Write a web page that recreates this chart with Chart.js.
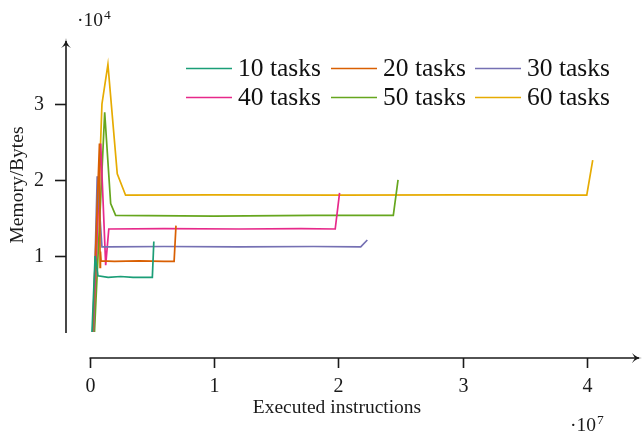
<!DOCTYPE html>
<html>
<head>
<meta charset="utf-8">
<script src="https://cdn.jsdelivr.net/npm/chart.js@4.4.0/dist/chart.umd.min.js"></script>
<style>
  body { margin: 0; background: #fff; }
  canvas { display: block; }
</style>
</head>
<body>
<canvas id="chart" width="644" height="437"></canvas>
<script>
// series labels and colours (Dark2 palette)
let labels = ['10 tasks', '20 tasks', '30 tasks', '40 tasks', '50 tasks', '60 tasks']
let colors = ['#1b9e77', '#d95f02', '#7570b3', '#e7298a', '#66a61e', '#e6ab02']

// points as [instructions (x 1e7), memory (x 1e4)]
let tasks10 = [[0.02, 0], [0.045, 1.0], [0.068, 0.74], [0.15, 0.72], [0.25, 0.73], [0.35, 0.72], [0.45, 0.72], [0.505, 0.72], [0.517, 1.19]]
let tasks20 = [[0.025, 0], [0.08, 2.48], [0.085, 0.85], [0.088, 1.06], [0.093, 0.935], [0.2, 0.93], [0.4, 0.935], [0.6, 0.93], [0.68, 0.93], [0.695, 1.4]]
let tasks30 = [[0.03, 0], [0.062, 2.05], [0.1, 1.12], [0.143, 1.12], [0.6, 1.125], [1.2, 1.12], [1.8, 1.125], [2.18, 1.12], [2.233, 1.21]]
let tasks40 = [[0.03, 0], [0.09, 2.48], [0.13, 0.88], [0.155, 1.355], [0.6, 1.36], [1.2, 1.355], [1.7, 1.36], [1.975, 1.355], [2.01, 1.83]]
let tasks50 = [[0.04, 0], [0.122, 2.89], [0.17, 1.69], [0.21, 1.535], [1.0, 1.525], [1.8, 1.535], [2.442, 1.535], [2.48, 2.0]]
let tasks60 = [[0.035, 0], [0.1, 3.0], [0.148, 3.52], [0.223, 2.08], [0.29, 1.8], [1.0, 1.805], [2.0, 1.8], [3.0, 1.805], [3.997, 1.8], [4.045, 2.26]]
let allSeries = [tasks10, tasks20, tasks30, tasks40, tasks50, tasks60]

// tick labels
let xTicks = [0, 1, 2, 3, 4]
let yTicks = [1, 2, 3]

let font = '"Liberation Serif", "DejaVu Serif", serif'
let ink = '#1a1a1a'

// draws the axes, ticks, titles and legend with the chart's own scales
let axesPlugin = {
    id: 'axesPlugin',
    afterDraw: function(chart) {
        let ctx = chart.ctx
        let xs = chart.scales.x
        let ys = chart.scales.y
        let area = chart.chartArea
        let x0 = xs.getPixelForValue(0)
        let y0 = ys.getPixelForValue(0)
        let xAxisY = area.bottom
        let yAxisX = area.left

        ctx.save()
        ctx.strokeStyle = ink
        ctx.fillStyle = ink
        ctx.lineWidth = 1.6

        // y axis with arrow
        ctx.beginPath()
        ctx.moveTo(yAxisX, y0 + 1)
        ctx.lineTo(yAxisX, area.top + 3)
        ctx.stroke()
        arrow(ctx, yAxisX, area.top, 0, -1)

        // x axis with arrow
        ctx.beginPath()
        ctx.moveTo(x0, xAxisY)
        ctx.lineTo(area.right - 3, xAxisY)
        ctx.stroke()
        arrow(ctx, area.right, xAxisY, 1, 0)

        ctx.font = '20px ' + font
        ctx.textAlign = 'center'
        ctx.textBaseline = 'middle'
        for (let i = 0; i < xTicks.length; i++) {
            let px = Math.round(xs.getPixelForValue(xTicks[i])) + 0.5
            ctx.beginPath()
            ctx.moveTo(px, xAxisY)
            ctx.lineTo(px, xAxisY + 10)
            ctx.stroke()
            ctx.fillText(String(xTicks[i]), px, xAxisY + 29)
        }
        for (let i = 0; i < yTicks.length; i++) {
            let py = Math.round(ys.getPixelForValue(yTicks[i])) + 0.5
            ctx.beginPath()
            ctx.moveTo(yAxisX - 11, py)
            ctx.lineTo(yAxisX, py)
            ctx.stroke()
            ctx.fillText(String(yTicks[i]), yAxisX - 27, py)
        }

        // axis titles
        ctx.font = '19.5px ' + font
        ctx.fillText('Executed instructions', 337, 408)
        ctx.save()
        ctx.translate(18, 185)
        ctx.rotate(-Math.PI / 2)
        ctx.fillText('Memory/Bytes', 0, 0)
        ctx.restore()

        // scale multipliers
        multiplier(ctx, 77, 21, '4')
        multiplier(ctx, 570, 426, '7')

        // legend, 3 columns x 2 rows
        let colX = [186, 331, 475]
        let rowY = [68, 97]
        ctx.font = '25.5px ' + font
        ctx.textAlign = 'left'
        for (let i = 0; i < labels.length; i++) {
            let lx = colX[i % 3]
            let ly = rowY[Math.floor(i / 3)]
            ctx.strokeStyle = colors[i]
            ctx.lineWidth = 1.6
            ctx.beginPath()
            ctx.moveTo(lx, ly + 0.5)
            ctx.lineTo(lx + 46, ly + 0.5)
            ctx.stroke()
            ctx.fillStyle = '#111'
            ctx.fillText(labels[i], lx + 52, ly + 1)
        }
        ctx.restore()
    }
}

function arrow(ctx, x, y, dx, dy) {
    // latex style arrow head pointing along (dx, dy)
    let len = 10, half = 5
    let bx = x - dx * len, by = y - dy * len
    ctx.beginPath()
    ctx.moveTo(x, y)
    ctx.quadraticCurveTo(bx + dx * 5, by + dy * 5, bx - dy * half, by + dx * half)
    ctx.lineTo(bx + dx * 3, by + dy * 3)
    ctx.lineTo(bx + dy * half, by - dx * half)
    ctx.quadraticCurveTo(bx + dx * 5, by + dy * 5, x, y)
    ctx.fill()
}

function multiplier(ctx, x, y, power) {
    ctx.textAlign = 'left'
    ctx.textBaseline = 'middle'
    ctx.font = '19.5px ' + font
    ctx.fillText('\u00b710', x, y)
    let w = ctx.measureText('\u00b710').width
    ctx.font = '13.5px ' + font
    ctx.fillText(power, x + w + 1, y - 6)
    ctx.textAlign = 'center'
}

let datasets = []
for (let i = 0; i < allSeries.length; i++) {
    datasets.push({
        label: labels[i],
        data: allSeries[i].map(function(p) { return { x: p[0], y: p[1] } }),
        borderColor: colors[i],
        borderWidth: 1.7,
        pointRadius: 0,
        tension: 0,
        fill: false
    })
}

new Chart(document.getElementById('chart').getContext('2d'), {
    type: 'line',
    data: { datasets: datasets },
    options: {
        responsive: false,
        animation: false,
        devicePixelRatio: 1,
        layout: { padding: { left: 66, right: 2, top: 38, bottom: 79 } },
        plugins: { legend: { display: false }, tooltip: { enabled: false } },
        scales: {
            x: { type: 'linear', min: -0.189, max: 4.441, display: false },
            y: { type: 'linear', min: -0.342, max: 3.868, display: false }
        }
    },
    plugins: [axesPlugin]
})
</script>
</body>
</html>
